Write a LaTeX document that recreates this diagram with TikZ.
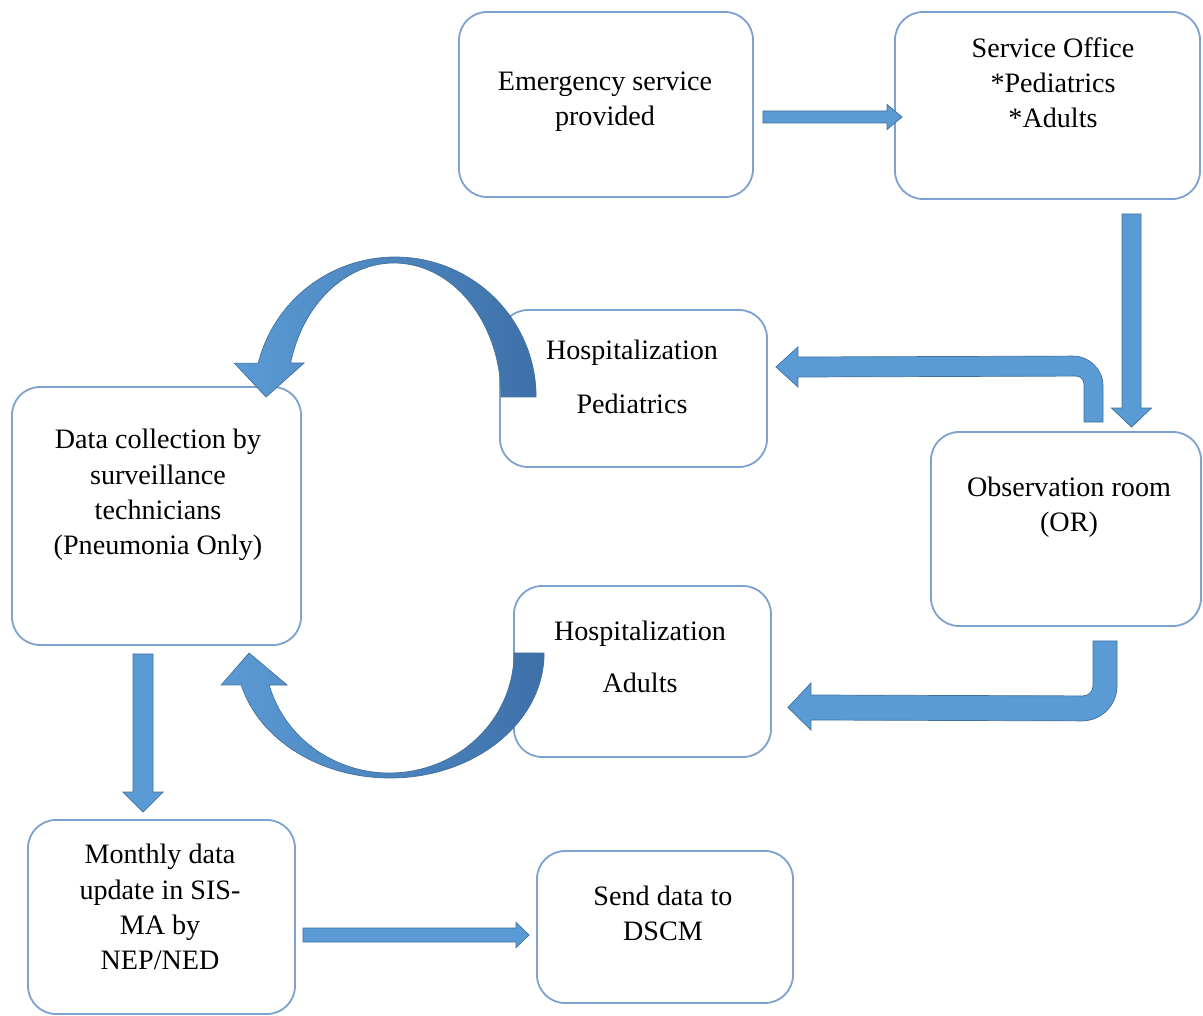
\documentclass[tikz,border=0pt]{standalone}
\usepackage{fontspec}
\setmainfont{Liberation Serif}
\usetikzlibrary{calc}

\definecolor{boxline}{RGB}{125,162,208}
\definecolor{flowfill}{RGB}{91,155,213}
\definecolor{flowline}{RGB}{65,113,156}
\definecolor{curvedark}{RGB}{62,112,168}

% one pixel of the layout
\newcommand{\pxlen}{0.025cm}

\tikzset{
  stage/.style 2 args={draw=boxline, line width=1.3pt, rounded corners=0.7cm,
    minimum width=#1*\pxlen, minimum height=#2*\pxlen, inner sep=0pt},
  caption/.style={align=center, font=\fontsize{20}{25}\selectfont},
  flow/.style={fill=flowfill, draw=flowline, line width=0.5pt},
  curvearrow/.style={left color=flowfill, right color=curvedark, draw=flowline, line width=0.5pt},
}

% straight block arrow: start, tip, half shaft, half head, head length
\newcommand{\blockarrow}[5]{%
  \path ($(#2)!#5*\pxlen!(#1)$) coordinate (head);
  \filldraw[flow] ($(#1)!#3*\pxlen!90:(#2)$) -- ($(head)!#3*\pxlen!-90:(#1)$)
    -- ($(head)!#4*\pxlen!-90:(#1)$) -- (#2) -- ($(head)!#4*\pxlen!90:(#1)$)
    -- ($(head)!#3*\pxlen!90:(#1)$) -- ($(#1)!#3*\pxlen!-90:(#2)$) -- cycle;
}

\begin{document}
\begin{tikzpicture}[x=\pxlen, y=-\pxlen]

  \useasboundingbox (0,0) rectangle (1203,1016);

  % Boxes
  \node[stage={294}{185}] (emerg)   at (606,104.5)  {};
  \node[stage={305}{187}] (service) at (1047.5,105.5) {};
  \node[stage={267}{157}] (hosped)  at (633.5,388.5) {};
  \node[stage={270}{194}] (obs)     at (1066,529)   {};
  \node[stage={289}{258}] (datacol) at (156.5,516)  {};
  \node[stage={257}{171}] (hosad)   at (642.5,671.5) {};
  \node[stage={267}{194}] (monthly) at (161.5,917)  {};
  \node[stage={256}{152}] (send)    at (665,927)    {};

  % Texts
  \node[caption] (emergtxt)   at (605,101.5) {Emergency service\\provided};
  \node[caption] (servicetxt) at (1053,83)   {Service Office\\*Pediatrics\\*Adults};
  \node[caption] (hospedtxt)  at (632,377)   {Hospitalization\\[13pt]Pediatrics};
  \node[caption] (obstxt)     at (1069,507.5) {Observation room\\(OR)};
  \node[caption] (datacoltxt) at (158,495)   {Data collection by\\surveillance\\technicians\\(Pneumonia Only)};
  \node[caption] (hosadtxt)   at (640,657)   {Hospitalization\\[12pt]Adults};
  \node[caption] (monthlytxt) at (160,907)   {Monthly data\\update in SIS-\\MA by\\NEP/NED};
  \node[caption] (sendtxt)    at (663,913)   {Send data to\\DSCM};

  % Emergency -> Service Office
  \coordinate (a1s) at ($(emerg.east)+(9,12.5)$);
  \coordinate (a1e) at ($(a1s -| service.west)+(8,0)$);
  \blockarrow{a1s}{a1e}{6}{12.5}{15}

  % Service Office -> Observation room
  \coordinate (a2s) at ($(service.south)+(84,14)$);
  \coordinate (a2e) at ($(a2s |- obs.north)+(0,-4)$);
  \blockarrow{a2s}{a2e}{9.5}{20}{19}

  % Observation room -> Hospitalization Pediatrics
  \coordinate (upleg) at ($(obs.north)+(27.5,-9)$);
  \coordinate (uptip) at ($(hosped.east)+(8,-21.5)$);
  \filldraw[flow] ($(upleg)+(-9.5,0)$) -- ++(0,-38) arc[start angle=0, end angle=-90, radius=8]
    -- ($(uptip)+(22,10)$) -- ++(0,10) -- (uptip) -- ($(uptip)+(22,-20)$) -- ++(0,10)
    -- ($(upleg)+(-20.5,-66)$) arc[start angle=-90, end angle=0, radius=30]
    -- ($(upleg)+(9.5,0)$) -- cycle;

  % Observation room -> Hospitalization Adults
  \coordinate (downleg) at ($(obs.south)+(39,14)$);
  \coordinate (downtip) at ($(hosad.east)+(16,36)$);
  \filldraw[flow] ($(downleg)+(-12,0)$) -- ++(0,45) arc[start angle=0, end angle=90, radius=10]
    -- ($(downtip)+(23,-12.5)$) -- ++(0,-12) -- (downtip) -- ($(downtip)+(23,22.5)$) -- ++(0,-10)
    -- ($(downleg)+(-23,80)$) arc[start angle=90, end angle=0, radius=35]
    -- ($(downleg)+(12,0)$) -- cycle;

  % Hospitalization Pediatrics -> Data collection
  \coordinate (ctop) at ($(hosped.west)+(-104,8.5)$);
  \shadedraw[curvearrow] ($(ctop)+(141,0)$) arc[start angle=0, end angle=-166, x radius=141, y radius=140]
    -- ++(-24,0) -- ($(ctop)+(-129,0)$) -- ($(ctop)+(-91,-34)$) -- ($(ctop)+(-104.5,-34)$)
    arc[start angle=-165.3, end angle=0, x radius=107, y radius=134] -- cycle;

  % Hospitalization Adults -> Data collection
  \coordinate (cbot) at ($(hosad.west)+(-123,-18.5)$);
  \shadedraw[curvearrow] ($(cbot)+(154,0)$) arc[start angle=0, end angle=165.17, x radius=154, y radius=125]
    -- ++(-20,0) -- ($(cbot)+(-141,0)$) -- ($(cbot)+(-103,32)$) -- ($(cbot)+(-120.9,32)$)
    arc[start angle=164.53, end angle=0, x radius=124.7, y radius=120] -- cycle;

  % Data collection -> Monthly update
  \coordinate (a5s) at ($(datacol.south)+(-13.5,8)$);
  \coordinate (a5e) at ($(a5s |- monthly.north)+(0,-7)$);
  \blockarrow{a5s}{a5e}{10}{20}{20}

  % Monthly update -> Send data
  \coordinate (a6s) at ($(monthly.east)+(7,18)$);
  \coordinate (a6e) at ($(a6s -| send.west)+(-7,0)$);
  \blockarrow{a6s}{a6e}{7}{12.5}{13}

\end{tikzpicture}
\end{document}
